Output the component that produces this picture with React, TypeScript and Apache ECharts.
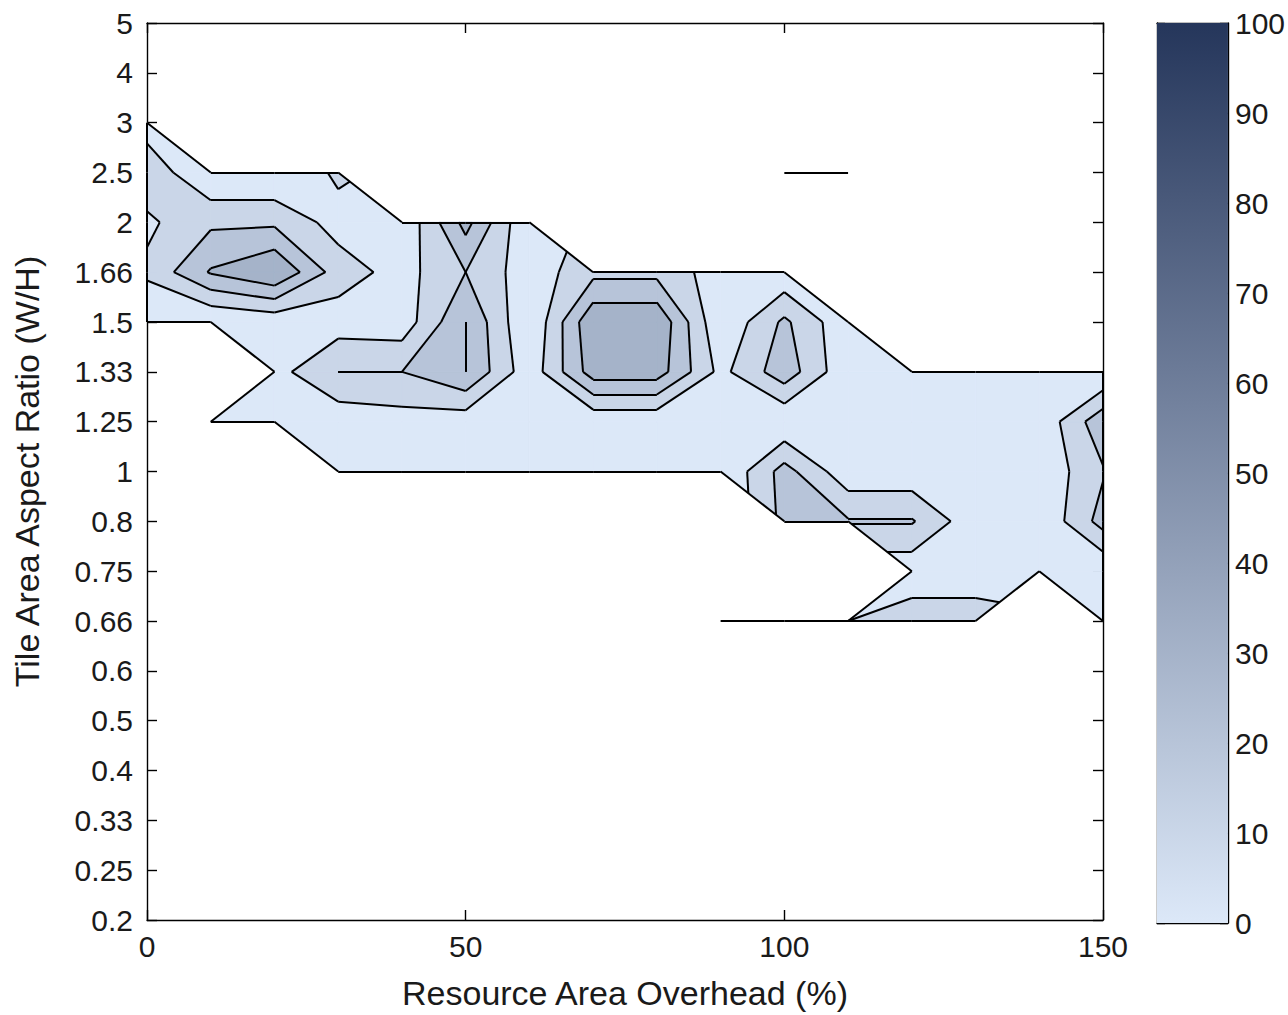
import React, { useEffect, useRef } from "react";
import * as echarts from "echarts";

// ---------------- data ----------------
const xValues = [0, 10, 20, 30, 40, 50, 60, 70, 80, 90, 100, 110, 120, 130, 140, 150];
const yLabels = ["0.2", "0.25", "0.33", "0.4", "0.5", "0.6", "0.66", "0.75", "0.8", "1", "1.25", "1.33", "1.5", "1.66", "2", "2.5", "3", "4", "5"];
const N = null;
// grid values, rows listed from the top row (5) down to the bottom row (0.2); null = no data
const row5 = [N, N, N, N, N, N, N, N, N, N, N, N, N, N, N, N];
const row4 = [N, N, N, N, N, N, N, N, N, N, N, N, N, N, N, N];
const row3 = [5, N, N, N, N, N, N, N, N, N, N, N, N, N, N, N];
const row2_5 = [17, 0, 0, 12, N, N, N, N, N, N, 0, 0, N, N, N, N];
const row2 = [8, 18, 18, 6, 1, 33.5, 0, N, N, N, N, N, N, N, N, N];
const row1_66 = [12, 31, 40, 15, 6, 20, 4, 17, 17, 5, 2, N, N, N, N, N];
const row1_5 = [0, 0, 3, 5, 4, 30, 0, 38.5, 38.5, 1, 22, 2, N, N, N, N];
const row1_33 = [N, N, 6.3, 20, 20, 30, 3.5, 35, 35, 7, 26, 2, 0, 0, 0, 0];
const row1_25 = [N, 0, 0, 3.3, 5.7, 4, 0, 2, 2, 0, 1, 0, 0, 0, 2, 27];
const row1 = [N, N, N, 0, 0, 0, 0, 0, 0, 0, 24, 3, 3, 0, 2, 19];
const row0_8 = [N, N, N, N, N, N, N, N, N, N, 23, 21, 21, 3, 1, 24];
const row0_75 = [N, N, N, N, N, N, N, N, N, N, N, N, 3, 3, 0, 1];
const row0_66 = [N, N, N, N, N, N, N, N, N, 0, 0, 10, 16, 16, N, 0];
const row0_6 = [N, N, N, N, N, N, N, N, N, N, N, N, N, N, N, N];
const row0_5 = [N, N, N, N, N, N, N, N, N, N, N, N, N, N, N, N];
const row0_4 = [N, N, N, N, N, N, N, N, N, N, N, N, N, N, N, N];
const row0_33 = [N, N, N, N, N, N, N, N, N, N, N, N, N, N, N, N];
const row0_25 = [N, N, N, N, N, N, N, N, N, N, N, N, N, N, N, N];
const row0_2 = [N, N, N, N, N, N, N, N, N, N, N, N, N, N, N, N];
const zRows: (number | null)[][] = [
  row5, row4, row3, row2_5, row2, row1_66, row1_5, row1_33, row1_25, row1,
  row0_8, row0_75, row0_66, row0_6, row0_5, row0_4, row0_33, row0_25, row0_2,
];
const levels = [0, 10, 20, 30, 40, 50, 60, 70, 80, 90];
const cbMin = 0;
const cbMax = 100;
const cbInterval = 10;
const xMin = 0;
const xMax = 150;
const xInterval = 50;
const xTitle = "Resource Area Overhead (%)";
const yTitle = "Tile Area Aspect Ratio (W/H)";
const lowColor = "#dce8f8";
const highColor = "#25365b";

// ---------------- helpers ----------------
type V = { x: number; y: number; z: number; key: string };

function hexToRgb(h: string) {
  const n = parseInt(h.slice(1), 16);
  return [(n >> 16) & 255, (n >> 8) & 255, n & 255];
}
function colorAt(v: number) {
  const t = Math.max(0, Math.min(1, (v - cbMin) / (cbMax - cbMin)));
  const a = hexToRgb(lowColor);
  const b = hexToRgb(highColor);
  const c = a.map((av, i) => Math.round(av + (b[i] - av) * t));
  return `rgb(${c[0]},${c[1]},${c[2]})`;
}
function zAt(i: number, j: number): number | null {
  const r = zRows[yLabels.length - 1 - j];
  if (!r) return null;
  const v = r[i];
  return v === undefined ? null : v;
}
function vert(i: number, j: number): V | null {
  const z = zAt(i, j);
  if (z === null) return null;
  return { x: xValues[i], y: j, z, key: i + "," + j };
}
function interp(a: V, b: V, L: number): V {
  const t = (L - a.z) / (b.z - a.z);
  return { x: a.x + t * (b.x - a.x), y: a.y + t * (b.y - a.y), z: L, key: "" };
}
function clipPoly(poly: V[], L: number): V[][] {
  const n = poly.length;
  const ins = poly.map((v) => v.z >= L);
  const cnt = ins.filter(Boolean).length;
  if (cnt === 0) return [];
  if (cnt === n) return [poly];
  if (n === 4 && cnt === 2 && ins[0] === ins[2]) {
    const c = poly.reduce((s, v) => s + v.z, 0) / 4;
    if (c < L) {
      const res: V[][] = [];
      for (let k = 0; k < 4; k++) {
        if (ins[k]) {
          const p = poly[(k + 3) % 4];
          const q = poly[(k + 1) % 4];
          res.push([interp(poly[k], p, L), poly[k], interp(poly[k], q, L)]);
        }
      }
      return res;
    }
  }
  const out: V[] = [];
  for (let k = 0; k < n; k++) {
    const a = poly[k];
    const b = poly[(k + 1) % n];
    const ia = ins[k];
    const ib = ins[(k + 1) % n];
    if (ia) out.push(a);
    if (ia !== ib) out.push(interp(a, b, L));
  }
  return [out];
}
function contourSegs(poly: V[], L: number): V[][] {
  const n = poly.length;
  const ins = poly.map((v) => v.z >= L);
  const cross: (V | null)[] = [];
  for (let k = 0; k < n; k++) {
    const a = poly[k];
    const b = poly[(k + 1) % n];
    cross.push(ins[k] !== ins[(k + 1) % n] ? interp(a, b, L) : null);
  }
  const pts = cross.filter((p) => p !== null) as V[];
  if (pts.length === 2) return [[pts[0], pts[1]]];
  if (pts.length === 4 && n === 4) {
    const c = poly.reduce((s, v) => s + v.z, 0) / 4;
    const cutIn = c < L;
    const res: V[][] = [];
    for (let k = 0; k < 4; k++) {
      if (ins[k] === cutIn) {
        const p = cross[(k + 3) % 4];
        const q = cross[k];
        if (p && q) res.push([p, q]);
      }
    }
    return res;
  }
  return [];
}

// cells (quads, or triangles where one corner is missing)
const cells: V[][] = [];
for (let j = 0; j < yLabels.length - 1; j++) {
  for (let i = 0; i < xValues.length - 1; i++) {
    const cs = [vert(i, j), vert(i + 1, j), vert(i + 1, j + 1), vert(i, j + 1)].filter((v) => v !== null) as V[];
    if (cs.length >= 3) cells.push(cs);
  }
}

// edges of the data region
const edgeCount: Record<string, { a: V; b: V; n: number }> = {};
function ekey(a: V, b: V) {
  return a.key < b.key ? a.key + "|" + b.key : b.key + "|" + a.key;
}
cells.forEach((poly) => {
  for (let k = 0; k < poly.length; k++) {
    const a = poly[k];
    const b = poly[(k + 1) % poly.length];
    const key = ekey(a, b);
    if (!edgeCount[key]) edgeCount[key] = { a, b, n: 0 };
    edgeCount[key].n++;
  }
});
const lineSegs: number[][][] = [];
Object.keys(edgeCount).forEach((key) => {
  const e = edgeCount[key];
  if (e.n === 1) lineSegs.push([[e.a.x, e.a.y], [e.b.x, e.b.y]]);
});
for (let j = 0; j < yLabels.length; j++) {
  for (let i = 0; i < xValues.length; i++) {
    const a = vert(i, j);
    if (!a) continue;
    const nbrs = [vert(i + 1, j), vert(i, j + 1)];
    nbrs.forEach((b) => {
      if (b && !edgeCount[ekey(a, b)]) lineSegs.push([[a.x, a.y], [b.x, b.y]]);
    });
  }
}
// contour lines
cells.forEach((poly) => {
  levels.slice(1).forEach((L) => {
    contourSegs(poly, L).forEach((s) => {
      if (Math.abs(s[0].x - s[1].x) + Math.abs(s[0].y - s[1].y) > 1e-9)
        lineSegs.push([[s[0].x, s[0].y], [s[1].x, s[1].y]]);
    });
  });
});

// fill items, ordered by level so higher bands paint over lower ones
const fillItems: number[][] = [];
levels.forEach((_, k) => {
  cells.forEach((poly, ci) => {
    const cx = poly.reduce((s, v) => s + v.x, 0) / poly.length;
    const cy = poly.reduce((s, v) => s + v.y, 0) / poly.length;
    fillItems.push([cx, cy, ci, k]);
  });
});

const FONT = "'Liberation Sans', Arial, sans-serif";
const TXT = "#1a1a1a";
const TICK_FS = 30;
const TITLE_FS = 34;

export default function App() {
  const ref = useRef<HTMLDivElement>(null);
  useEffect(() => {
    if (!ref.current) return;
    const chart = echarts.init(ref.current, undefined, { renderer: "svg" });
    const axisLine = { show: true, onZero: false, lineStyle: { color: "#000", width: 1.4 } };
    const tick = (len: number) => ({ show: true, inside: true, length: len, lineStyle: { color: "#000", width: 1.4 } });
    const option: any = {
      animation: false,
      backgroundColor: "#fff",
      textStyle: { fontFamily: FONT },
      grid: [
        { left: 147, top: 23, width: 956, height: 900, show: true, backgroundColor: "#fff", borderWidth: 0 },
        { left: 1157, top: 23, width: 72, height: 900, show: false },
      ],
      xAxis: [
        {
          gridIndex: 0, type: "value", min: xMin, max: xMax, interval: xInterval, position: "bottom",
          axisLine, axisTick: tick(10),
          axisLabel: { fontSize: TICK_FS, color: TXT, margin: 11, fontFamily: FONT, showMinLabel: true, showMaxLabel: true },
          splitLine: { show: false },
          name: xTitle, nameLocation: "middle", nameGap: 56,
          nameTextStyle: { fontSize: TITLE_FS, color: TXT, fontFamily: FONT },
        },
        {
          gridIndex: 0, type: "value", min: xMin, max: xMax, interval: xInterval, position: "top",
          axisLine, axisTick: tick(10), axisLabel: { show: false }, splitLine: { show: false },
        },
        {
          gridIndex: 1, type: "value", min: 0, max: 1, position: "bottom",
          axisLine, axisTick: { show: false }, axisLabel: { show: false }, splitLine: { show: false },
        },
        {
          gridIndex: 1, type: "value", min: 0, max: 1, position: "top",
          axisLine, axisTick: { show: false }, axisLabel: { show: false }, splitLine: { show: false },
        },
      ],
      yAxis: [
        {
          gridIndex: 0, type: "value", min: 0, max: yLabels.length - 1, interval: 1, position: "left",
          axisLine, axisTick: tick(10),
          axisLabel: {
            fontSize: TICK_FS, color: TXT, margin: 14, fontFamily: FONT, showMinLabel: true, showMaxLabel: true,
            formatter: (v: number) => yLabels[Math.round(v)] ?? "",
          },
          splitLine: { show: false },
          name: yTitle, nameLocation: "middle", nameGap: 103, nameRotate: 90,
          nameTextStyle: { fontSize: TITLE_FS, color: TXT, fontFamily: FONT },
        },
        {
          gridIndex: 0, type: "value", min: 0, max: yLabels.length - 1, interval: 1, position: "right",
          axisLine, axisTick: tick(10), axisLabel: { show: false }, splitLine: { show: false },
        },
        {
          gridIndex: 1, type: "value", min: cbMin, max: cbMax, interval: cbInterval, position: "right",
          axisLine, axisTick: tick(8),
          axisLabel: { fontSize: TICK_FS, color: TXT, margin: 7, fontFamily: FONT, showMinLabel: true, showMaxLabel: true },
          splitLine: { show: false },
        },
        {
          gridIndex: 1, type: "value", min: cbMin, max: cbMax, interval: cbInterval, position: "left",
          axisLine, axisTick: tick(8), axisLabel: { show: false }, splitLine: { show: false },
        },
      ],
      series: [
        {
          type: "custom",
          xAxisIndex: 0,
          yAxisIndex: 0,
          silent: true,
          z: 2,
          clip: true,
          encode: { x: 0, y: 1 },
          data: fillItems,
          renderItem: (_params: any, api: any) => {
            const ci = api.value(2);
            const k = api.value(3);
            const poly = cells[ci];
            const pieces = k === 0 ? [poly] : clipPoly(poly, levels[k]);
            const color = colorAt(levels[k]);
            return {
              type: "group",
              children: pieces
                .filter((p) => p.length >= 3)
                .map((p) => ({
                  type: "polygon",
                  shape: { points: p.map((v) => api.coord([v.x, v.y])) },
                  style: { fill: color, stroke: color, lineWidth: 0.9 },
                })),
            };
          },
        },
        {
          type: "lines",
          coordinateSystem: "cartesian2d",
          xAxisIndex: 0,
          yAxisIndex: 0,
          silent: true,
          z: 4,
          polyline: false,
          data: lineSegs.map((s) => ({ coords: s })),
          lineStyle: { color: "#000", width: 2, opacity: 1, curveness: 0 },
          effect: { show: false },
        },
        {
          type: "custom",
          xAxisIndex: 2,
          yAxisIndex: 2,
          silent: true,
          z: 1,
          encode: { x: 0, y: 1 },
          data: [[0, cbMin, 1, cbMax]],
          renderItem: (_params: any, api: any) => {
            const p0 = api.coord([api.value(0), api.value(3)]);
            const p1 = api.coord([api.value(2), api.value(1)]);
            return {
              type: "rect",
              shape: { x: p0[0], y: p0[1], width: p1[0] - p0[0], height: p1[1] - p0[1] },
              style: {
                fill: new echarts.graphic.LinearGradient(0, 0, 0, 1, [
                  { offset: 0, color: colorAt(cbMax) },
                  { offset: 1, color: colorAt(cbMin) },
                ]),
              },
            };
          },
        },
      ],
    };
    chart.setOption(option);
    return () => chart.dispose();
  }, []);
  return (
    <div
      ref={ref}
      style={{ position: "absolute", left: 0, top: 0, width: 1288, height: 1015, background: "#fff" }}
    />
  );
}
